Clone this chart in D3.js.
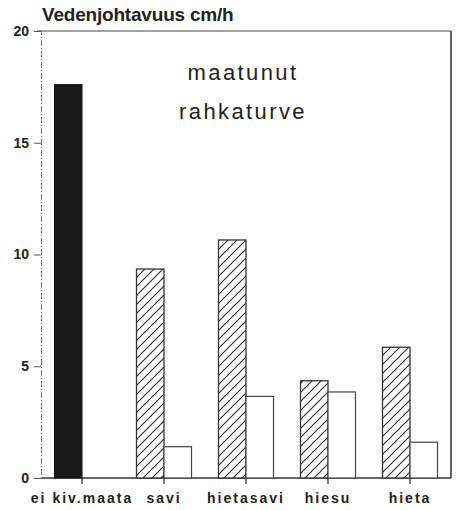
<!DOCTYPE html>
<html>
<head>
<meta charset="utf-8">
<script src="https://cdn.jsdelivr.net/npm/d3@7"></script>
<style>
  html, body { margin: 0; padding: 0; background: #fff; }
  svg { display: block; }
  text { font-family: "Liberation Sans", Arial, sans-serif; fill: #222; }
</style>
</head>
<body>
<svg id="chart" width="456" height="510"></svg>
<script>
// Soil categories beneath the peat layer
const categories = ["ei kiv.maata", "savi", "hietasavi", "hiesu", "hieta"];
// Hydraulic conductivity, cm/h
const noMineral = [17.6, null, null, null, null];   // black bar
const hatchedVals = [null, 9.35, 10.65, 4.35, 5.85];
const openVals = [null, 1.4, 3.65, 3.85, 1.6];
const yTicks = [0, 5, 10, 15, 20];

const W = 456, H = 510;
const margin = { left: 41, right: 5, top: 31, bottom: 32 };
const svg = d3.select("#chart");

const x = d3.scaleBand().domain(categories).range([margin.left, W - margin.right]).padding(0);
const y = d3.scaleLinear().domain([0, 20]).range([H - margin.bottom, margin.top]);
const barW = 27.5;

// diagonal hatch
const defs = svg.append("defs");
const pat = defs.append("pattern")
  .attr("id", "hatch").attr("patternUnits", "userSpaceOnUse")
  .attr("width", 9).attr("height", 9);
pat.append("rect").attr("width", 9).attr("height", 9).attr("fill", "#fff");
pat.append("path")
  .attr("d", "M-2,2 L2,-2 M0,9 L9,0 M7,11 L11,7")
  .attr("stroke", "#333").attr("stroke-width", 1.2);

// frame
const x0 = margin.left, x1 = W - margin.right, yTop = y(20), yBot = y(0);
svg.append("line").attr("x1", x0 - 4).attr("x2", x1).attr("y1", yTop).attr("y2", yTop)
  .attr("stroke", "#444").attr("stroke-width", 1.2);
svg.append("line").attr("x1", x1).attr("x2", x1).attr("y1", yTop).attr("y2", yBot)
  .attr("stroke", "#333").attr("stroke-width", 1.5);
svg.append("line").attr("x1", x0).attr("x2", x1).attr("y1", yBot).attr("y2", yBot)
  .attr("stroke", "#333").attr("stroke-width", 1.3);

// y axis (dash-dot)
const yAxis = d3.axisLeft(y).tickValues(yTicks).tickSize(7).tickPadding(5);
const gy = svg.append("g").attr("transform", `translate(${x0},0)`).call(yAxis);
gy.select(".domain").attr("stroke", "#777").attr("stroke-dasharray", "6,2,1,2").attr("stroke-width", 1);
gy.selectAll(".tick line").attr("stroke", "#555");
gy.selectAll(".tick text").attr("font-size", 14).attr("font-weight", "bold")
  .attr("fill", "#333").style("font-family", "'Liberation Sans', Arial, sans-serif");

// x axis
const xAxis = d3.axisBottom(x).tickSize(6).tickPadding(9);
const gx = svg.append("g").attr("transform", `translate(0,${yBot})`).call(xAxis);
gx.select(".domain").remove();
gx.selectAll(".tick line").attr("stroke", "#333").attr("stroke-width", 1.3);
gx.selectAll(".tick text").attr("font-size", 14).attr("font-weight", "bold")
  .attr("fill", "#222").style("letter-spacing", "2px")
  .style("font-family", "'Liberation Sans', Arial, sans-serif");

const center = c => x(c) + x.bandwidth() / 2;

// black bar
svg.append("g").selectAll("rect")
  .data(categories.map((c, i) => ({ c, v: noMineral[i] })).filter(d => d.v != null))
  .join("rect")
  .attr("x", d => center(d.c) - barW).attr("width", barW)
  .attr("y", d => y(d.v)).attr("height", d => yBot - y(d.v))
  .attr("fill", "#1a1a1a").attr("stroke", "#111");

// hatched bars
svg.append("g").selectAll("rect")
  .data(categories.map((c, i) => ({ c, v: hatchedVals[i] })).filter(d => d.v != null))
  .join("rect")
  .attr("x", d => center(d.c) - barW).attr("width", barW)
  .attr("y", d => y(d.v)).attr("height", d => yBot - y(d.v))
  .attr("fill", "url(#hatch)").attr("stroke", "#333").attr("stroke-width", 1.3);

// open bars
svg.append("g").selectAll("rect")
  .data(categories.map((c, i) => ({ c, v: openVals[i] })).filter(d => d.v != null))
  .join("rect")
  .attr("x", d => center(d.c)).attr("width", barW)
  .attr("y", d => y(d.v)).attr("height", d => yBot - y(d.v))
  .attr("fill", "#fff").attr("stroke", "#444").attr("stroke-width", 1.2);

// axis title
svg.append("text").attr("x", 42).attr("y", 20.5)
  .attr("font-size", 19).attr("font-weight", "bold").attr("fill", "#222")
  .style("letter-spacing", "-0.2px")
  .text("Vedenjohtavuus cm/h");

// annotation
const ann = svg.append("text").attr("text-anchor", "middle").attr("font-size", 22)
  .style("letter-spacing", "2.4px").attr("fill", "#111");
ann.append("tspan").attr("x", 243).attr("y", 80).text("maatunut");
ann.append("tspan").attr("x", 243).attr("y", 119).text("rahkaturve");
</script>
</body>
</html>
